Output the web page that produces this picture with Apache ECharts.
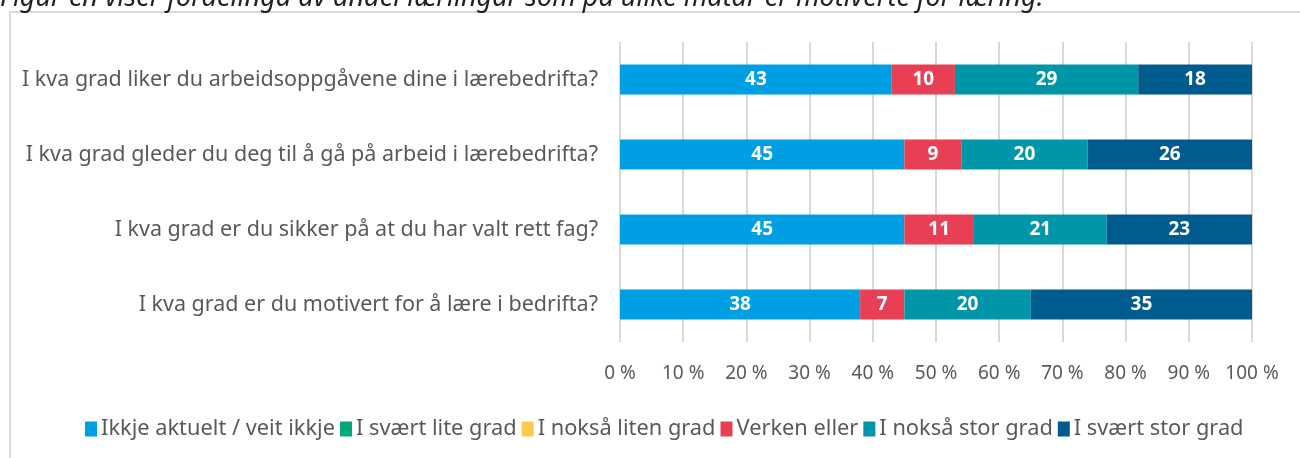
<!DOCTYPE html>
<html><head><meta charset="utf-8">
<script src="https://cdn.jsdelivr.net/npm/echarts@6/dist/echarts.min.js"></script>
<style>html,body{margin:0;padding:0;background:#fff}#c{width:1300px;height:458px}</style>
</head><body><div id="c"></div>
<script>
const categories = [
  'I kva grad liker du arbeidsoppgåvene dine i lærebedrifta?',
  'I kva grad gleder du deg til å gå på arbeid i lærebedrifta?',
  'I kva grad er du sikker på at du har valt rett fag?',
  'I kva grad er du motivert for å lære i bedrifta?'
];
const seriesNames = ['Ikkje aktuelt / veit ikkje','I svært lite grad','I nokså liten grad','Verken eller','I nokså stor grad','I svært stor grad'];
const ikkjeAktuelt = [43, 45, 45, 38];
const sværtLite = [0, 0, 0, 0];
const nokssLiten = [0, 0, 0, 0];
const verkenEller = [10, 9, 11, 7];
const nokssStor = [29, 20, 21, 20];
const sværtStor = [18, 26, 23, 35];
const xTicks = [0,10,20,30,40,50,60,70,80,90,100];
const colors = ['#009fe3','#00a97a','#fdc94d','#e83f55','#0096aa','#005b8f'];
const titleText = 'Figur en viser fordelinga av andel lærlingar som på ulike måtar er motiverte for læring.';

const values = [ikkjeAktuelt, sværtLite, nokssLiten, verkenEller, nokssStor, sværtStor];
const font = 'Noto Sans';
const chart = echarts.init(document.getElementById('c'));
chart.setOption({
  animation: false,
  color: colors,
  textStyle: {fontFamily: font},
  graphic: [
    {type:'rect', shape:{x:10, y:12, width:1320, height:480}, style:{fill:'none', stroke:'#d9d9d9', lineWidth:2}, silent:true},
    {type:'text', left:0, top:-15, style:{text:titleText, font:'italic 27px "Noto Sans"', fill:'#222'}}
  ],
  legend: {
    left: 80, top: 413,
    itemWidth: 12, itemHeight: 15, itemGap: 5,
    icon: 'rect',
    textStyle: {fontSize: 21.8, color: '#595959', fontFamily: font, padding:[0,0,0,-1]},
    data: seriesNames
  },
  grid: {left: 620, right: 48, top: 42, bottom: 116, containLabel: false},
  xAxis: {
    type: 'value', min: 0, max: 100, interval: 10,
    axisLabel: {formatter: v => xTicks.includes(v) ? v + ' %' : '', fontSize: 19, color: '#595959', margin: 22},
    axisLine: {show:false}, axisTick:{show:false},
    splitLine: {lineStyle: {color: '#d9d9d9', width: 2}}
  },
  yAxis: {
    type: 'category', inverse: true, data: categories,
    axisLine: {show:false}, axisTick:{show:false},
    axisLabel: {fontSize: 21.5, color: '#595959', margin: 22}
  },
  series: seriesNames.map((n, i) => ({
    name: n, type: 'bar', stack: 'total', barWidth: 30,
    data: values[i],
    label: {show: true, position: 'inside', color: '#fff', fontWeight: 'bold', fontSize: 19,
      formatter: p => p.value ? p.value : ''},
    itemStyle: {borderWidth: 0}
  }))
});
</script></body></html>
